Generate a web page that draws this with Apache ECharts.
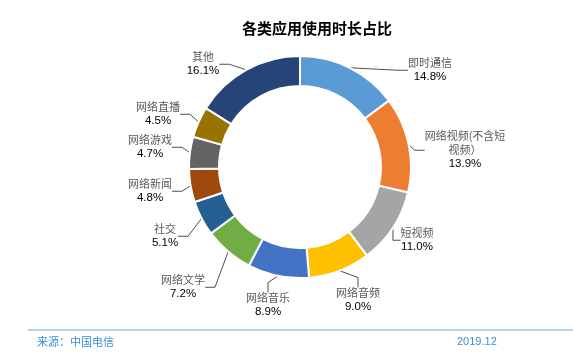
<!DOCTYPE html>
<html><head><meta charset="utf-8">
<script src="https://cdn.jsdelivr.net/npm/echarts@6/dist/echarts.min.js"></script>
<style>html,body{margin:0;padding:0;background:#fff}#c{width:573px;height:358px}</style>
</head><body><div id="c"></div>
<script>
const categories = ['即时通信','网络视频(不含短视频）','短视频','网络音频','网络音乐','网络文学','社交','网络新闻','网络游戏','网络直播','其他'];
const values = [14.8,13.9,11.0,9.0,8.9,7.2,5.1,4.8,4.7,4.5,16.1];
const colors = ['#5B9BD5','#ED7D31','#A5A5A5','#FFC000','#4472C4','#70AD47','#255E91','#9E480E','#636363','#997300','#264478'];
// label block centers (layout)
const labelPos = [[430,70],[465,150],[417,240],[358,300],[268,305],[183,287],[165,236],[150,191],[150,147],[158,114],[203,64]];

const chart = echarts.init(document.getElementById('c'));
chart.setOption({
  animation:false,
  title:{text:'各类应用使用时长占比', left:237, top:16,
    textStyle:{fontSize:15,fontWeight:'bold',color:'#000',fontFamily:'Noto Sans CJK SC'}},
  series:[{
    type:'pie', center:[300,167], radius:[81,111], startAngle:90, clockwise:true,
    avoidLabelOverlap:false,
    itemStyle:{borderColor:'#fff',borderWidth:2},
    data: categories.map((n,i)=>({name:n,value:values[i],itemStyle:{color:colors[i]}})),
    label:{show:true, position:'outside',
      formatter:function(p){
        let n = p.name;
        if(n.length>8) n = n.slice(0,8)+'\n'+n.slice(8);
        const lines = n.split('\n').map(s=>'{n|'+s+'}').join('\n');
        return lines+'\n{p|'+p.value.toFixed(1)+'%}';
      },
      align:'center',
      rich:{
        n:{fontSize:11,color:'#595959',fontFamily:'Noto Sans CJK SC',lineHeight:14,align:'center'},
        p:{fontSize:11.5,color:'#000',fontFamily:'Liberation Sans',lineHeight:14,align:'center'}
      }
    },
    labelLine:{show:true,length:10,length2:10,lineStyle:{color:'#222',width:0.8}},
    labelLayout:function(params){
      const pos = labelPos[params.dataIndex];
      return {x:pos[0], y:pos[1], align:'center', verticalAlign:'middle'};
    }
  }],
  graphic:[
    {type:'line',shape:{x1:28,y1:330,x2:573,y2:330},style:{stroke:'#9DC3E6',lineWidth:1.5}},
    {type:'text',left:37,top:336,style:{text:'来源：中国电信',fill:'#3A8FD6',font:'11px "Noto Sans CJK SC"'}},
    {type:'text',left:457,top:336,style:{text:'2019.12',fill:'#3A8FD6',font:'11px "Liberation Sans"'}}
  ]
});
</script></body></html>
